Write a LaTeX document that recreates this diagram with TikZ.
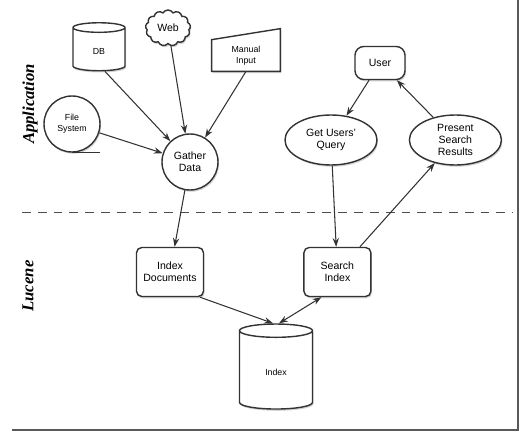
\documentclass[tikz,border=0pt]{standalone}
\usepackage{fontspec}
\setmainfont{Liberation Sans}
\newfontfamily\sidefont{Liberation Serif}
\usepackage{tikz}
\usetikzlibrary{shapes.geometric, shapes.symbols, arrows, arrows.meta, positioning, shadows, calc}

\begin{document}
\begin{tikzpicture}[
    every node/.style={font=\fontsize{6}{7}\selectfont},
    shade/.style={drop shadow={shadow xshift=0.6pt, shadow yshift=-1pt, opacity=0.35}},
    procBox/.style={rectangle, rounded corners=3pt, draw=black!80, thick, fill=white, shade, align=center, minimum width=1.34cm, minimum height=0.98cm},
    procCirc/.style={circle, draw=black!80, thick, fill=white, shade, align=center, minimum size=1.12cm, inner sep=0pt},
    procOval/.style={ellipse, draw=black!80, thick, fill=white, shade, align=center, minimum width=1.84cm, minimum height=1.0cm, inner sep=0pt},
    store/.style={cylinder, shape border rotate=90, aspect=0.4, draw=black!80, thick, fill=white, shade, align=center},
    small/.style={font=\fontsize{5}{6}\selectfont},
    arr/.style={->, >={Stealth[length=5pt, width=3.6pt]}, semithick, black!80},
    sidelabel/.style={rotate=90, font=\sidefont\fontsize{9.5}{11}\selectfont\bfseries\itshape}
]
\useasboundingbox (0,0) rectangle (10.44,-8.66);

% ============== APPLICATION (arriba) ==============
\node[store, small, minimum width=1.04cm, minimum height=0.96cm] (db) at (1.98,-1.02) {DB};
\node[cloud, cloud puffs=13, cloud puff arc=120, draw=black!80, thick, fill=white, shade, minimum width=0.9cm, minimum height=0.72cm, inner sep=0pt] (web) at (3.36,-0.56) {Web};
\node[small, rectangle, minimum width=1.36cm, minimum height=0.62cm, align=center, inner sep=0pt] (manual) at (4.92,-1.11) {Manual\\Input};
\node[procCirc, small] (fs) at (1.44,-2.48) {File\\System};
\node[procCirc] (gather) at (3.8,-3.24) {Gather\\Data};

\node[procBox, minimum width=1.0cm, minimum height=0.66cm, rounded corners=5pt] (user) at (7.6,-1.26) {User};
\node[procOval] (query) at (6.62,-2.8) {Get Users'\\Query};
\node[procOval, right=0.62cm of query] (present) {Present\\Search\\Results};

% entrada manual (borde superior inclinado)
\draw[draw=black!80, thick, fill=white, shade] (manual.south west) -- (manual.south east)
    -- ([yshift=0.22cm]manual.north east) -- (manual.north west) -- cycle;
\node[small, align=center] at (manual) {Manual\\Input};
\draw[thick, black!80] (fs.south) -- ++(0.56,0);

\node[sidelabel] (app) at (0.6,-2.08) {Application};

% ============== Separador ==============
\coordinate (sepL) at (0.44,-4.24);
\coordinate (sepR) at (10.26,-4.24);
\draw[dashed, dash pattern=on 5pt off 4pt, black!70] (sepL) -- (sepR);

% ============== LUCENE (abajo) ==============
\node[procBox] (idxdoc) at (3.4,-5.44) {Index\\Documents};
\node[procBox, right=1.98cm of idxdoc] (search) {Search\\Index};
\node[store, small, minimum width=1.46cm, minimum height=1.7cm] (index) at (5.52,-7.44) {Index};

\node[sidelabel] (luc) at (0.56,-5.72) {Lucene};

% ============== Conexiones ==============
\draw[arr] ([xshift=0.12cm]db.south) -- (gather);
\draw[arr] (web) -- (gather);
\draw[arr] (manual.south) -- (gather);
\draw[arr] (fs) -- (gather);
\draw[arr] (gather) -- (idxdoc);

\draw[arr] (user) -- (query);
\draw[arr] (present) -- (user);
\draw[arr] (query) -- (search);
\draw[arr] (search) -- (present);

\draw[arr] ([xshift=0.6cm]idxdoc.south) -- ([xshift=-0.06cm]index.north);
\draw[arr, <->] ([xshift=-0.32cm]search.south) -- ([xshift=0.06cm]index.north);

% ============== Borde de pagina ==============
\coordinate (pgTR) at (10.36,0);
\coordinate (pgBR) at (10.36,-8.6);
\coordinate (pgBL) at (0.24,-8.6);
\draw[black!65, line width=1.6pt] (pgTR) -- (pgBR) -- (pgBL);
\end{tikzpicture}
\end{document}
